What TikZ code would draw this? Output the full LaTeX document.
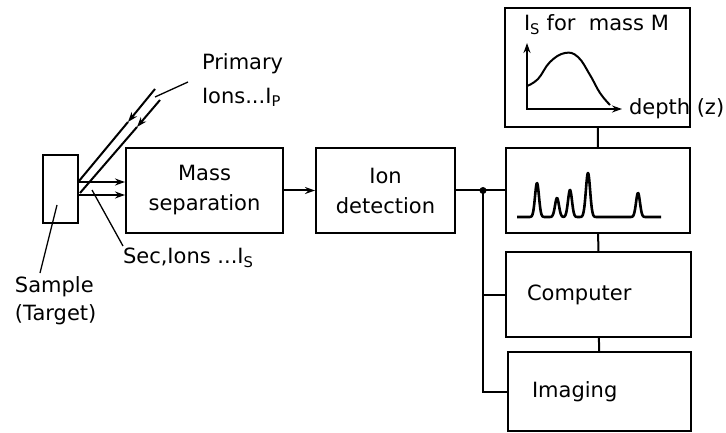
\documentclass[tikz,border=0pt]{standalone}
\usepackage{fontspec}
\setmainfont{DejaVu Sans}
\usetikzlibrary{arrows.meta, positioning}

\begin{document}
\begin{tikzpicture}[>={Stealth[length=10pt, width=7pt]}, x=1pt, y=-1pt, line width=2pt,
  font=\fontsize{21}{30}\selectfont,
  box/.style={draw, rectangle, inner sep=0pt, align=center},
  lead/.style={line width=1.3pt},
  txt/.style={anchor=west, align=left, inner sep=0pt}]
\useasboundingbox (0,0) rectangle (726,433);
%
\node[box, minimum width=35, minimum height=68] (sample) at (60.5,189) {};
\node[box, minimum width=157, minimum height=85] (mass) at (204.5,190.5) {Mass\\separation};
\node[box, minimum width=139, minimum height=85] (det) at (385.5,190.5) {Ion\\detection};
\node[box, minimum width=184, minimum height=85] (spec) at (598,190.5) {};
\node[box, minimum width=185, minimum height=119] (graph) at (597.5,67.5) {};
\node[box, minimum width=185, minimum height=85, inner xsep=21pt, text width=143, align=left] (comp) at (598.5,294.5) {Computer};
\node[box, minimum width=183, minimum height=79, inner xsep=24pt, text width=135, align=left] (img) at (599.5,391.5) {Imaging};
%
\draw[->] (mass) -- (det);
\coordinate[right=27pt of det.east] (tap);
\draw (det) -- (spec);
\fill (tap) circle (3.5);
\draw (tap) |- (comp);
\draw (tap) |- (img);
\draw (graph) -- (spec);
\draw (spec) -- (comp);
\draw (comp) -- (img);
%
% primary ions onto the sample
\coordinate (p1) at (155,89);
\coordinate (m1) at (128,122);
\coordinate (h1) at (79,181);
\coordinate (p2) at (160,100);
\coordinate (m2) at (137,127);
\coordinate (h2) at (80,193);
\draw[->] (p1) -- (m1);
\draw (m1) -- (h1);
\draw[->] (p2) -- (m2);
\draw (m2) -- (h2);
% secondary ions into the separator
\coordinate (s1) at (79,182);
\coordinate (s2) at (79,195);
\draw[->] (s1) -- (s1 -| mass.west);
\draw[->] (s2) -- (s2 -| mass.west);
%
\node[txt, font=\fontsize{21}{34}\selectfont] (prim) at (201,80) {Primary\\Ions...I\textsubscript{P}};
\draw[lead] (155,97) -- (188,82);
\node[txt] (sec) at (122,258) {Sec,Ions ...I\textsubscript{S}};
\draw[lead] (92,190) -- (123,246);
\node[txt, font=\fontsize{21}{28}\selectfont] (samp) at (14,301) {Sample\\(Target)};
\draw[lead] (57,205) -- (40,273);
%
% depth profile
\draw[<->] (527,43) -- (527,109) -- (622,109);
\draw plot[smooth, tension=0.7] coordinates {(527,86) (538,79) (550,62) (565,53) (578,57) (590,75) (600,93) (610,105)};
\node[txt] (ylab) at (523,25) {I\textsubscript{S} for \ mass M};
\node[txt] (xlab) at (628,109) {depth (z)};
%
% mass spectrum
\draw[line width=2.6pt, line join=round] plot[domain=517:661, samples=400]
  (\x, {217-34*exp(-(((\x-537)/2.8)^2))-19*exp(-(((\x-557)/2.8)^2))-27*exp(-(((\x-570)/2.8)^2))-44*exp(-(((\x-588)/3)^2))-24*exp(-(((\x-638)/2.8)^2))});
\end{tikzpicture}
\end{document}
